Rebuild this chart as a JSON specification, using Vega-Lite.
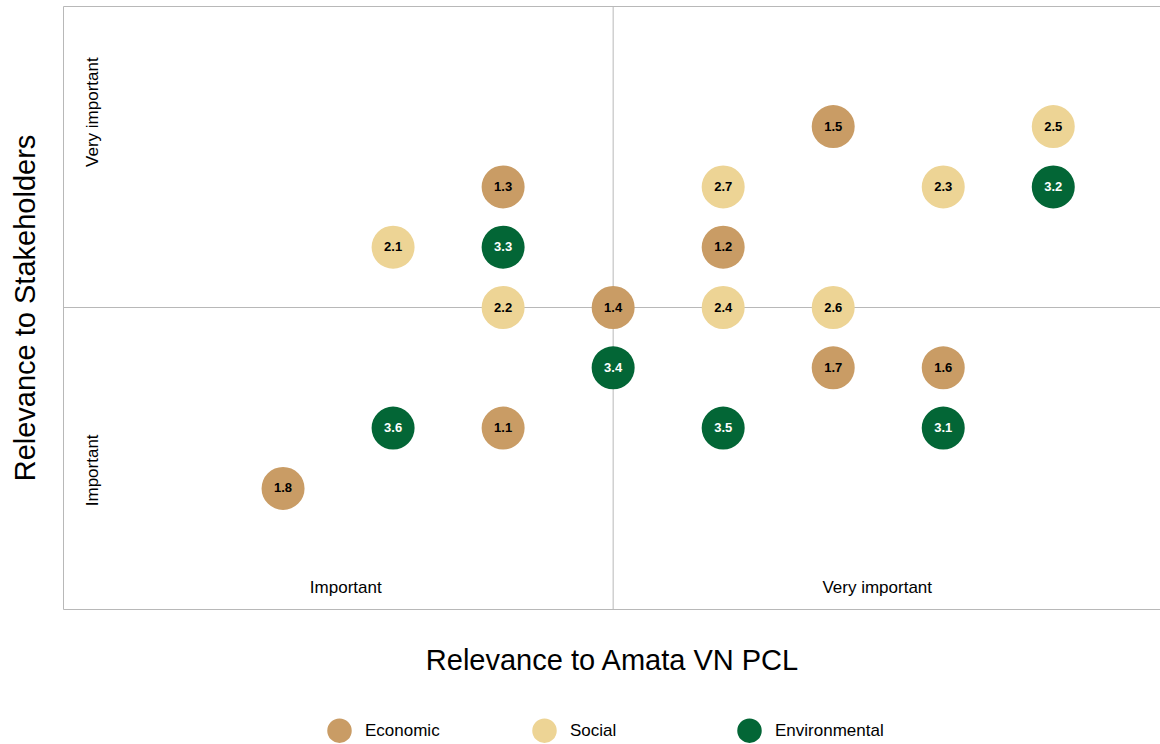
{
  "$schema": "https://vega.github.io/schema/vega-lite/v6.json",
  "width": 1097,
  "height": 603,
  "autosize": "none",
  "padding": {"left": 63, "top": 6, "right": 0, "bottom": 135},
  "background": "white",
  "config": {
    "font": "Liberation Sans",
    "view": {"stroke": "#b8b8b8", "strokeWidth": 1}
  },
  "datasets": {
    "points": [
      {"id": "1.1", "category": "Economic", "x": 4, "y": 3},
      {"id": "1.2", "category": "Economic", "x": 6, "y": 6},
      {"id": "1.3", "category": "Economic", "x": 4, "y": 7},
      {"id": "1.4", "category": "Economic", "x": 5, "y": 5},
      {"id": "1.5", "category": "Economic", "x": 7, "y": 8},
      {"id": "1.6", "category": "Economic", "x": 8, "y": 4},
      {"id": "1.7", "category": "Economic", "x": 7, "y": 4},
      {"id": "1.8", "category": "Economic", "x": 2, "y": 2},
      {"id": "2.1", "category": "Social", "x": 3, "y": 6},
      {"id": "2.2", "category": "Social", "x": 4, "y": 5},
      {"id": "2.3", "category": "Social", "x": 8, "y": 7},
      {"id": "2.4", "category": "Social", "x": 6, "y": 5},
      {"id": "2.5", "category": "Social", "x": 9, "y": 8},
      {"id": "2.6", "category": "Social", "x": 7, "y": 5},
      {"id": "2.7", "category": "Social", "x": 6, "y": 7},
      {"id": "3.1", "category": "Environmental", "x": 8, "y": 3},
      {"id": "3.2", "category": "Environmental", "x": 9, "y": 7},
      {"id": "3.3", "category": "Environmental", "x": 4, "y": 6},
      {"id": "3.4", "category": "Environmental", "x": 5, "y": 4},
      {"id": "3.5", "category": "Environmental", "x": 6, "y": 3},
      {"id": "3.6", "category": "Environmental", "x": 3, "y": 3}
    ],
    "hlabels": [
      {"label": "Important", "x": 2.57, "y": 0.35},
      {"label": "Very important", "x": 7.4, "y": 0.35}
    ],
    "vlabels": [
      {"label": "Very important", "x": 0.27, "y": 8.24},
      {"label": "Important", "x": 0.27, "y": 2.3}
    ],
    "vline": [{"x": 5}],
    "hline": [{"y": 5}]
  },
  "layer": [
    {
      "data": {"name": "vline"},
      "mark": {"type": "rule", "color": "#b8b8b8", "strokeWidth": 1},
      "encoding": {
        "x": {"field": "x", "type": "quantitative", "scale": {"domain": [0, 9.97], "nice": false, "zero": false},
          "axis": {"title": "Relevance to Amata VN PCL", "labels": false, "ticks": false, "domain": false, "grid": false,
            "titleFontSize": 29, "titleFontWeight": "normal", "titleColor": "black", "titlePadding": 37, "titleFont": "Liberation Sans"}}
      }
    },
    {
      "data": {"name": "hline"},
      "mark": {"type": "rule", "color": "#b8b8b8", "strokeWidth": 1},
      "encoding": {
        "y": {"field": "y", "type": "quantitative", "scale": {"domain": [0, 10], "nice": false, "zero": false},
          "axis": {"title": "Relevance to Stakeholders", "labels": false, "ticks": false, "domain": false, "grid": false,
            "titleFontSize": 29, "titleFontWeight": "normal", "titleColor": "black", "titlePadding": 23, "titleFont": "Liberation Sans"}}
      }
    },
    {
      "data": {"name": "points"},
      "mark": {"type": "circle", "size": 1850, "opacity": 1},
      "encoding": {
        "x": {"field": "x", "type": "quantitative"},
        "y": {"field": "y", "type": "quantitative"},
        "color": {"field": "category", "type": "nominal",
          "scale": {"domain": ["Economic", "Social", "Environmental"], "range": ["#C99C65", "#EDD495", "#036636"]},
          "legend": {"title": null, "orient": "none", "legendX": 264, "legendY": 712, "direction": "horizontal",
            "columns": 3, "gridAlign": "all", "columnPadding": 58, "symbolSize": 600, "symbolType": "circle",
            "labelFontSize": 17, "labelOffset": 13, "labelColor": "black", "labelFont": "Liberation Sans", "symbolStrokeWidth": 0}}
      }
    },
    {
      "data": {"name": "points"},
      "mark": {"type": "text", "fontSize": 13, "fontWeight": "bold", "align": "center", "baseline": "middle"},
      "encoding": {
        "x": {"field": "x", "type": "quantitative"},
        "y": {"field": "y", "type": "quantitative"},
        "text": {"field": "id"},
        "color": {"condition": {"test": "datum.category === 'Environmental'", "value": "white"}, "value": "black"}
      }
    },
    {
      "data": {"name": "hlabels"},
      "mark": {"type": "text", "fontSize": 17, "align": "center", "baseline": "middle", "color": "black"},
      "encoding": {
        "x": {"field": "x", "type": "quantitative"},
        "y": {"field": "y", "type": "quantitative"},
        "text": {"field": "label"}
      }
    },
    {
      "data": {"name": "vlabels"},
      "mark": {"type": "text", "fontSize": 17, "align": "center", "baseline": "middle", "angle": 270, "color": "black"},
      "encoding": {
        "x": {"field": "x", "type": "quantitative"},
        "y": {"field": "y", "type": "quantitative"},
        "text": {"field": "label"}
      }
    }
  ]
}
